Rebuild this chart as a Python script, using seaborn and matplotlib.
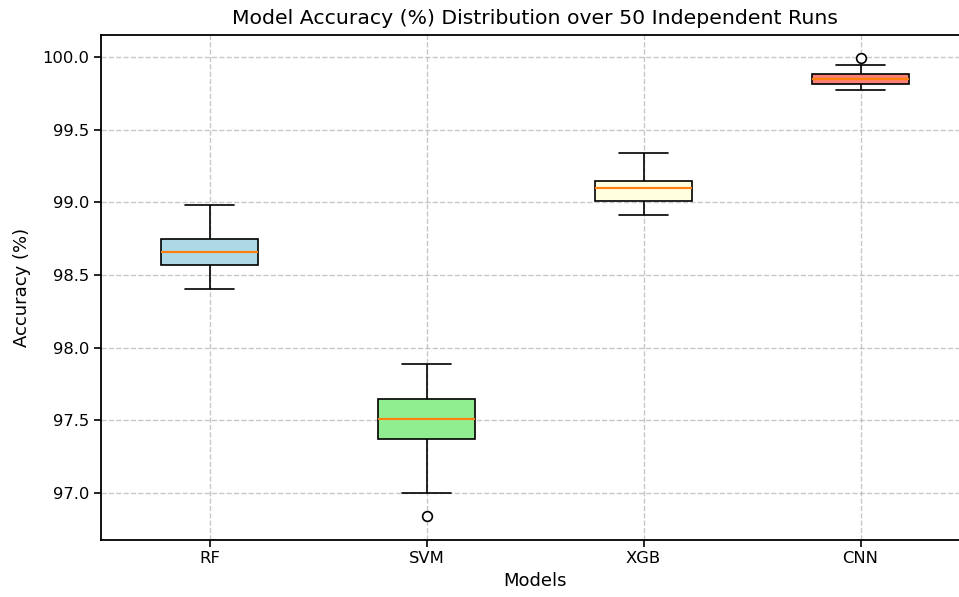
import matplotlib
matplotlib.use("Agg")
import matplotlib.pyplot as plt
import seaborn as sns
import pandas as pd

# Summary statistics
models = ["RF", "SVM", "XGB", "CNN"]
whisker_low = [98.405, 97.00, 98.91, 99.771]
q1 = [98.567, 97.371, 99.011, 99.816]
median = [98.66, 97.509, 99.096, 99.849]
q3 = [98.745, 97.645, 99.147, 99.883]
whisker_high = [98.98, 97.886, 99.34, 99.945]
outliers_low = [None, 96.844, None, None]
outliers_high = [None, None, None, 99.99]
colors = ["lightblue", "lightgreen", "lightyellow", "salmon"]

# Build a 9-point sample per model whose quartiles equal the read statistics
rows = []
for i, m in enumerate(models):
    lo0 = outliers_low[i] if outliers_low[i] is not None else whisker_low[i]
    hi8 = outliers_high[i] if outliers_high[i] is not None else whisker_high[i]
    vals = [lo0, whisker_low[i], q1[i], q1[i], median[i], q3[i], q3[i],
            whisker_high[i], hi8]
    for v in vals:
        rows.append({"Model": m, "Accuracy": v})
df = pd.DataFrame(rows)

sns.set_style("ticks")
plt.rcParams["font.family"] = ["DejaVu Sans"]
plt.rcParams["text.color"] = "black"
plt.rcParams["axes.labelcolor"] = "black"
plt.rcParams["xtick.color"] = "black"
plt.rcParams["ytick.color"] = "black"

fig = plt.figure(figsize=(9.59, 5.97), dpi=100)
ax = fig.add_axes([101 / 959, 1 - 539.5 / 597, (969 - 101) / 959, (539.5 - 35) / 597])

lw = 1.2
sns.boxplot(
    data=df, x="Model", y="Accuracy", hue="Model", order=models,
    palette=dict(zip(models, colors)), saturation=1, width=0.45,
    whis=1.5, linecolor="black", linewidth=lw, legend=False, ax=ax,
    medianprops={"color": "#ff7f0e", "linewidth": lw * 1.3},
    flierprops={"marker": "o", "markerfacecolor": "white",
                "markeredgecolor": "black", "markersize": 7,
                "markeredgewidth": lw},
    capprops={"color": "black", "linewidth": lw},
    whiskerprops={"color": "black", "linewidth": lw},
    boxprops={"edgecolor": "black", "linewidth": lw},
)

ax.set_xlim(-0.5, 3.5)
ax.set_ylim(96.681, 100.151)
ticks = [97.0, 97.5, 98.0, 98.5, 99.0, 99.5, 100.0]
ax.set_yticks(ticks)
ax.set_yticklabels([f"{t:.1f}" for t in ticks])
ax.grid(True, linestyle="--", color="#b0b0b0", alpha=0.7, linewidth=1.0)
ax.set_axisbelow(True)
for s in ax.spines.values():
    s.set_visible(True)
    s.set_linewidth(1.3)
    s.set_color("black")
ax.spines["right"].set_visible(False)
ax.tick_params(axis="both", labelsize=11.8, length=5, width=1.2, color="black",
               labelcolor="black")

ax.set_title("Model Accuracy (%) Distribution over 50 Independent Runs",
             fontsize=14.7, pad=8, color="black")
ax.set_xlabel("Models", fontsize=13, color="black")
ax.set_ylabel("Accuracy (%)", fontsize=13, color="black", labelpad=8)

fig.savefig("out.png", dpi=100)
